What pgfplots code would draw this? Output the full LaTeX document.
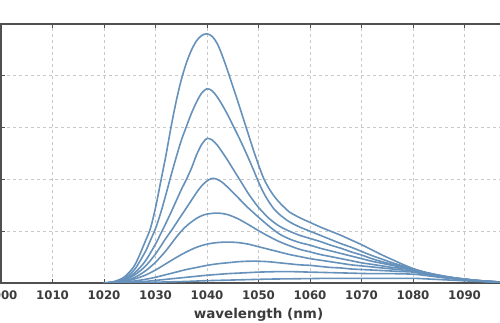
\documentclass[border=0pt]{standalone}
\usepackage{pgfplots}
\pgfplotsset{compat=1.18}
\usepackage{fontspec}
\setmainfont{DejaVu Sans}
\definecolor{curve}{RGB}{102,145,186}
\definecolor{axisgray}{RGB}{80,80,80}
\definecolor{gridgray}{RGB}{200,200,200}
\definecolor{labgray}{RGB}{60,60,60}
\pgfplotsset{spec/.style={color=curve, no markers, line width=1.6pt, smooth, tension=0.5}}
\begin{document}
\begin{tikzpicture}
\begin{axis}[
  x=5.15pt, y=51.8pt,
  xmin=1000, xmax=1100, ymin=0, ymax=5,
  scale only axis,
  axis line style={axisgray, line width=1.3pt},
  xtick={1000,1010,...,1090},
  ytick={0,1,...,5},
  yticklabels={},
  tick align=inside,
  major tick length=4pt,
  tick style={axisgray, line width=1pt},
  grid=major,
  major grid style={gridgray, line width=0.8pt, dash pattern=on 3pt off 3pt},
  /pgf/number format/assume math mode=true,
  /pgf/number format/1000 sep={},
  ticklabel style={font=\bfseries\fontsize{11.8}{13}\selectfont, text=labgray},
  xticklabel style={yshift=-4pt},
  xlabel={wavelength (nm)},
  xlabel style={font=\bfseries\fontsize{13.5}{15}\selectfont, text=labgray, yshift=-1.5pt},
  clip=true,
]
\addplot[spec] coordinates {(1020,0)(1022,0.03)(1024,0.12)(1026,0.35)(1028,0.8)(1029,1.05)(1030,1.45)(1031,1.95)(1032,2.45)(1033,3.0)(1034,3.5)(1035,3.92)(1036,4.25)(1037,4.5)(1038,4.68)(1039,4.78)(1040,4.81)(1041,4.76)(1042,4.62)(1043,4.38)(1044,4.1)(1045,3.8)(1046,3.5)(1047,3.19)(1048,2.88)(1049,2.57)(1050,2.28)(1051,2.02)(1052,1.83)(1053,1.68)(1054,1.56)(1055,1.46)(1056,1.37)(1058,1.26)(1060,1.17)(1062,1.08)(1064,1.0)(1066,0.92)(1068,0.83)(1070,0.74)(1072,0.64)(1074,0.54)(1076,0.45)(1078,0.36)(1080,0.28)(1082,0.216)(1084,0.17)(1086,0.132)(1088,0.1)(1090,0.076)(1092,0.054)(1094,0.038)(1096,0.024)(1098,0.016)};
\addplot[spec] coordinates {(1020,0)(1022,0.02)(1024,0.09)(1026,0.27)(1028,0.6)(1029,0.82)(1030,1.05)(1031,1.35)(1032,1.7)(1033,2.07)(1034,2.42)(1035,2.75)(1036,3.02)(1037,3.28)(1038,3.5)(1039,3.67)(1040,3.75)(1041,3.71)(1042,3.59)(1043,3.43)(1044,3.25)(1045,3.05)(1046,2.85)(1047,2.64)(1048,2.42)(1049,2.19)(1050,1.95)(1051,1.74)(1052,1.57)(1053,1.43)(1054,1.33)(1055,1.25)(1056,1.18)(1058,1.08)(1060,1.0)(1062,0.92)(1064,0.84)(1066,0.76)(1068,0.69)(1070,0.61)(1072,0.53)(1074,0.46)(1076,0.39)(1078,0.33)(1080,0.27)(1082,0.216)(1084,0.17)(1086,0.132)(1088,0.1)(1090,0.076)(1092,0.054)(1094,0.038)(1096,0.024)(1098,0.016)};
\addplot[spec] coordinates {(1020,0)(1022,0.02)(1024,0.07)(1026,0.2)(1028,0.42)(1030,0.75)(1031,0.95)(1032,1.15)(1033,1.36)(1034,1.58)(1035,1.8)(1036,2.0)(1037,2.22)(1038,2.48)(1039,2.68)(1040,2.79)(1041,2.76)(1042,2.66)(1043,2.52)(1044,2.37)(1045,2.21)(1046,2.05)(1047,1.89)(1048,1.73)(1049,1.59)(1050,1.46)(1052,1.25)(1054,1.1)(1056,1.0)(1058,0.92)(1060,0.86)(1062,0.8)(1064,0.73)(1066,0.67)(1068,0.6)(1070,0.54)(1072,0.47)(1074,0.41)(1076,0.36)(1078,0.31)(1080,0.26)(1082,0.208)(1084,0.164)(1086,0.127)(1088,0.096)(1090,0.073)(1092,0.052)(1094,0.036)(1096,0.023)(1098,0.016)};
\addplot[spec] coordinates {(1020,0)(1022,0.015)(1024,0.06)(1026,0.16)(1028,0.32)(1030,0.56)(1032,0.86)(1033,1.0)(1034,1.15)(1035,1.3)(1036,1.45)(1037,1.6)(1038,1.75)(1039,1.88)(1040,1.97)(1041,2.02)(1042,2.0)(1043,1.94)(1044,1.85)(1045,1.75)(1046,1.65)(1047,1.55)(1048,1.45)(1049,1.36)(1050,1.27)(1052,1.1)(1054,0.95)(1056,0.85)(1058,0.78)(1060,0.73)(1062,0.67)(1064,0.62)(1066,0.57)(1068,0.52)(1070,0.47)(1072,0.42)(1074,0.38)(1076,0.34)(1078,0.3)(1080,0.26)(1082,0.208)(1084,0.164)(1086,0.127)(1088,0.096)(1090,0.073)(1092,0.052)(1094,0.036)(1096,0.023)(1098,0.016)};
\addplot[spec] coordinates {(1020,0)(1022,0.01)(1024,0.04)(1026,0.11)(1028,0.23)(1030,0.4)(1032,0.62)(1034,0.88)(1035,1.0)(1036,1.1)(1037,1.18)(1038,1.25)(1039,1.3)(1040,1.33)(1042,1.35)(1044,1.32)(1046,1.24)(1048,1.13)(1050,1.01)(1052,0.9)(1054,0.8)(1056,0.72)(1058,0.65)(1060,0.6)(1062,0.55)(1064,0.51)(1066,0.47)(1068,0.43)(1070,0.39)(1072,0.36)(1074,0.33)(1076,0.3)(1078,0.28)(1080,0.25)(1082,0.2)(1084,0.158)(1086,0.123)(1088,0.093)(1090,0.07)(1092,0.05)(1094,0.035)(1096,0.023)(1098,0.015)};
\addplot[spec] coordinates {(1020,0)(1022,0.01)(1024,0.03)(1026,0.08)(1028,0.15)(1030,0.25)(1032,0.37)(1034,0.49)(1036,0.6)(1038,0.69)(1040,0.75)(1042,0.78)(1044,0.79)(1046,0.78)(1048,0.75)(1050,0.7)(1052,0.65)(1054,0.6)(1056,0.55)(1058,0.51)(1060,0.47)(1062,0.44)(1064,0.41)(1066,0.38)(1068,0.35)(1070,0.33)(1072,0.31)(1074,0.29)(1076,0.27)(1078,0.25)(1080,0.23)(1082,0.184)(1084,0.145)(1086,0.113)(1088,0.085)(1090,0.064)(1092,0.046)(1094,0.032)(1096,0.021)(1098,0.014)};
\addplot[spec] coordinates {(1020,0)(1022,0.005)(1024,0.015)(1026,0.04)(1028,0.07)(1030,0.11)(1032,0.16)(1034,0.21)(1036,0.26)(1038,0.3)(1040,0.34)(1042,0.37)(1044,0.39)(1046,0.41)(1048,0.42)(1050,0.42)(1052,0.41)(1054,0.39)(1056,0.37)(1058,0.35)(1060,0.34)(1062,0.32)(1064,0.3)(1066,0.29)(1068,0.27)(1070,0.26)(1072,0.25)(1074,0.24)(1076,0.23)(1078,0.22)(1080,0.21)(1082,0.172)(1084,0.14)(1086,0.11)(1088,0.085)(1090,0.064)(1092,0.046)(1094,0.032)(1096,0.021)(1098,0.014)};
\addplot[spec] coordinates {(1020,0)(1022,0.003)(1024,0.008)(1026,0.018)(1028,0.03)(1030,0.05)(1032,0.07)(1034,0.09)(1036,0.11)(1038,0.13)(1040,0.15)(1042,0.165)(1044,0.18)(1046,0.19)(1048,0.2)(1050,0.21)(1052,0.215)(1054,0.22)(1056,0.22)(1058,0.215)(1060,0.21)(1064,0.2)(1068,0.19)(1072,0.18)(1076,0.18)(1080,0.17)(1082,0.15)(1084,0.125)(1086,0.1)(1088,0.078)(1090,0.06)(1092,0.044)(1094,0.031)(1096,0.02)(1098,0.013)};
\addplot[spec] coordinates {(1020,0)(1024,0.003)(1028,0.01)(1032,0.02)(1036,0.03)(1040,0.045)(1044,0.055)(1048,0.065)(1052,0.075)(1056,0.08)(1060,0.085)(1064,0.09)(1068,0.09)(1072,0.09)(1076,0.09)(1080,0.09)(1082,0.082)(1084,0.072)(1086,0.062)(1088,0.052)(1090,0.042)(1092,0.033)(1094,0.025)(1096,0.017)(1098,0.011)};
\coordinate (bl) at (axis cs:999.806,-0.772);
\coordinate (tr) at (axis cs:1096.893,5.463);
\end{axis}
\pgfresetboundingbox
\path[use as bounding box] (bl) rectangle (tr);
\end{tikzpicture}
\end{document}
